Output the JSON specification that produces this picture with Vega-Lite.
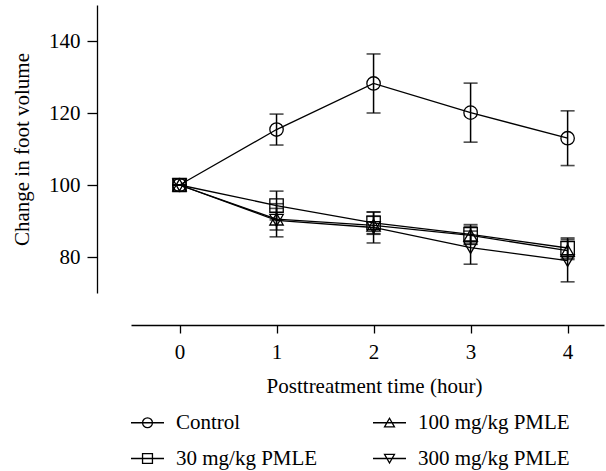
{
  "$schema": "https://vega.github.io/schema/vega-lite/v6.json",
  "autosize": "none",
  "width": 473,
  "height": 288,
  "padding": {"left": 131, "top": 5, "right": 2, "bottom": 178},
  "background": "white",
  "config": {
    "view": {"stroke": null},
    "font": "Liberation Serif",
    "axis": {
      "grid": false,
      "domainColor": "black",
      "domainWidth": 1.3,
      "tickColor": "black",
      "tickWidth": 1.3,
      "labelColor": "black",
      "titleColor": "black",
      "labelFont": "Liberation Serif",
      "titleFont": "Liberation Serif",
      "labelFontSize": 21,
      "titleFontSize": 21,
      "titleFontWeight": "normal"
    }
  },
  "data": {
    "values": [
      {"hour": 0, "group": "Control", "mean": 100, "err": 0},
      {"hour": 1, "group": "Control", "mean": 115.4, "err": 4.3},
      {"hour": 2, "group": "Control", "mean": 128.2, "err": 8.2},
      {"hour": 3, "group": "Control", "mean": 120.1, "err": 8.2},
      {"hour": 4, "group": "Control", "mean": 113.0, "err": 7.6},
      {"hour": 0, "group": "30 mg/kg PMLE", "mean": 100, "err": 0},
      {"hour": 1, "group": "30 mg/kg PMLE", "mean": 94.3, "err": 4.0},
      {"hour": 2, "group": "30 mg/kg PMLE", "mean": 89.5, "err": 3.0},
      {"hour": 3, "group": "30 mg/kg PMLE", "mean": 86.3, "err": 2.7},
      {"hour": 4, "group": "30 mg/kg PMLE", "mean": 82.5, "err": 2.8},
      {"hour": 0, "group": "100 mg/kg PMLE", "mean": 100, "err": 0},
      {"hour": 1, "group": "100 mg/kg PMLE", "mean": 90.5, "err": 3.0},
      {"hour": 2, "group": "100 mg/kg PMLE", "mean": 88.8, "err": 2.5},
      {"hour": 3, "group": "100 mg/kg PMLE", "mean": 86.0, "err": 2.5},
      {"hour": 4, "group": "100 mg/kg PMLE", "mean": 81.8, "err": 2.5},
      {"hour": 0, "group": "300 mg/kg PMLE", "mean": 100, "err": 0},
      {"hour": 1, "group": "300 mg/kg PMLE", "mean": 90.2, "err": 4.6},
      {"hour": 2, "group": "300 mg/kg PMLE", "mean": 88.2, "err": 4.3},
      {"hour": 3, "group": "300 mg/kg PMLE", "mean": 82.6, "err": 4.6},
      {"hour": 4, "group": "300 mg/kg PMLE", "mean": 79.0, "err": 5.9}
    ]
  },
  "encoding": {
    "x": {
      "field": "hour",
      "type": "quantitative",
      "scale": {"domain": [-0.5, 4.375], "nice": false, "zero": false},
      "axis": {
        "values": [0, 1, 2, 3, 4],
        "offset": 32,
        "tickSize": 8,
        "labelPadding": 8,
        "title": "Posttreatment time (hour)",
        "titlePadding": 13,
        "titleX": 243
      }
    },
    "y": {
      "field": "mean",
      "type": "quantitative",
      "scale": {"domain": [70, 150], "nice": false, "zero": false},
      "axis": {
        "values": [80, 100, 120, 140],
        "offset": 34,
        "tickSize": 10,
        "labelPadding": 7,
        "title": "Change in foot volume",
        "titlePadding": 16
      }
    }
  },
  "layer": [
    {
      "mark": {"type": "line", "color": "black", "strokeWidth": 1.3},
      "encoding": {"detail": {"field": "group"}}
    },
    {
      "mark": {
        "type": "errorbar",
        "ticks": {"size": 14, "color": "black", "thickness": 1.6},
        "rule": {"color": "black", "strokeWidth": 1.5}
      },
      "encoding": {
        "yError": {"field": "err"},
        "detail": {"field": "group"}
      }
    },
    {
      "mark": {"type": "point", "filled": false, "color": "black", "strokeWidth": 1.3, "size": 180, "opacity": 1},
      "encoding": {
        "shape": {
          "field": "group",
          "type": "nominal",
          "scale": {
            "domain": ["Control", "30 mg/kg PMLE", "100 mg/kg PMLE", "300 mg/kg PMLE"],
            "range": ["circle", "square", "triangle-up", "triangle-down"]
          },
          "legend": null
        }
      }
    },
    {
      "transform": [{"filter": "false"}],
      "mark": {"type": "point", "filled": false, "color": "black", "strokeWidth": 1.3, "size": 1089, "opacity": 1},
      "encoding": {
        "shape": {
          "field": "group",
          "type": "nominal",
          "scale": {
            "domain": ["Control", "100 mg/kg PMLE", "30 mg/kg PMLE", "300 mg/kg PMLE"],
            "range": [
              "M-1,0H1M-0.3,0A0.3,0.3 0 1,0 0.3,0A0.3,0.3 0 1,0 -0.3,0",
              "M-1,0H1M-0.3,0.25L0.3,0.25L0,-0.27Z",
              "M-1,0H1M-0.3,-0.3H0.3V0.3H-0.3Z",
              "M-1,0H1M-0.3,-0.25L0.3,-0.25L0,0.27Z"
            ]
          },
          "legend": {
            "title": null,
            "orient": "none",
            "legendX": -1,
            "legendY": 400,
            "columns": 2,
            "direction": "horizontal",
            "columnPadding": 52,
            "rowPadding": 8,
            "symbolSize": 1089,
            "symbolStrokeColor": "black",
            "symbolStrokeWidth": 1.3,
            "symbolFillColor": "transparent",
            "symbolOpacity": 1,
            "labelFont": "Liberation Serif",
            "labelFontSize": 21,
            "labelColor": "black",
            "labelOffset": 11,
            "labelLimit": 300
          }
        }
      }
    }
  ],
  "resolve": {"scale": {"shape": "independent"}, "legend": {"shape": "independent"}}
}
